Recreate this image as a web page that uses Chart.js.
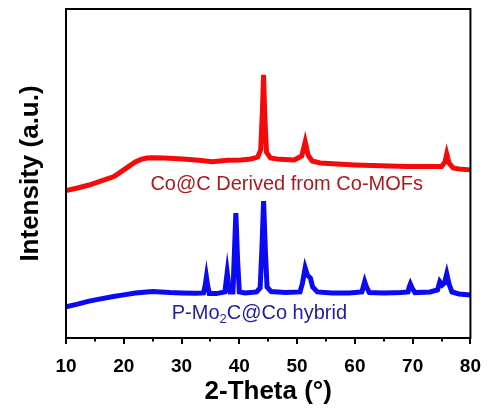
<!DOCTYPE html>
<html>
<head>
<meta charset="utf-8">
<script src="https://cdn.jsdelivr.net/npm/chart.js@4"></script>
<style>
  html, body { margin: 0; padding: 0; background: #fff; }
  #wrap { width: 490px; height: 414px; }
</style>
</head>
<body>
<div id="wrap"><canvas id="xrd"></canvas></div>
<script>
// 2-Theta positions and intensities (a.u.)
const coCX = [10, 12, 14, 16, 17, 18.2, 19, 20, 21, 22, 23, 24, 25, 27, 30.2, 33, 35.3, 38, 40.3, 42, 43.2, 43.7, 44.0, 44.2, 44.4, 44.7, 45.4, 47, 49.5, 50.8, 51.4, 51.9, 52.6, 54, 57, 60, 63, 66, 69, 72.3, 75, 75.6, 75.9, 76.3, 77, 78, 80];
const coCY = [448, 456, 465, 477, 483, 490, 499, 511, 523, 535, 543, 547, 548, 547, 544, 540, 536, 540, 541, 544, 550, 572, 693, 800, 678, 565, 547, 543, 541, 553, 596, 556, 538, 532, 529, 526, 524, 523, 521, 521, 521, 535, 559, 532, 517, 514, 511];

const pMoX = [10, 12, 14, 16, 18.2, 20, 22, 25, 28, 30, 32.4, 33.8, 34.1, 34.3, 34.5, 34.8, 36, 37.5, 37.7, 37.9, 38.1, 38.4, 38.9, 39.1, 39.4, 39.7, 40.0, 41, 43, 43.6, 43.9, 44.2, 44.5, 44.8, 45.5, 48, 50.5, 50.9, 51.4, 51.8, 52.3, 52.7, 53.5, 56, 59, 61.2, 61.5, 61.7, 62.0, 62.5, 65, 68, 69.2, 69.4, 69.6, 69.9, 70.4, 73, 74.3, 74.7, 75.1, 75.5, 75.9, 76.3, 76.8, 78, 80];
const pMoY = [95, 103, 112, 119, 126, 131, 137, 141, 138, 137, 136, 137, 161, 185, 161, 135, 135, 140, 170, 199, 170, 140, 140, 237, 380, 237, 140, 137, 140, 152, 267, 416, 267, 155, 141, 138, 140, 164, 213, 191, 182, 155, 140, 137, 137, 140, 158, 171, 155, 138, 137, 138, 140, 155, 164, 152, 138, 140, 146, 171, 161, 167, 195, 164, 140, 134, 131];

const xTicks = [10, 20, 30, 40, 50, 60, 70, 80];
const seriesNames = ['Co@C Derived from Co-MOFs', 'P-Mo2C@Co hybrid'];

const FONT = '"Liberation Sans", Arial, sans-serif';

function toPoints(xs, ys) {
  return xs.map((x, i) => ({ x: x, y: ys[i] }));
}

// frame, tick marks and the two curve labels
const decor = {
  id: 'decor',
  afterDraw(chart) {
    const { ctx, chartArea: a, scales: { x, y } } = chart;
    ctx.save();
    ctx.strokeStyle = '#000';
    ctx.lineWidth = 2;
    ctx.strokeRect(a.left, a.top, a.right - a.left, a.bottom - a.top);
    ctx.beginPath();
    for (let v = 10; v <= 80; v += 5) {
      const px = Math.round(x.getPixelForValue(v));
      const len = v % 10 === 0 ? 6 : 3.5;
      ctx.moveTo(px, a.bottom);
      ctx.lineTo(px, a.bottom + len);
    }
    ctx.stroke();

    // red label
    ctx.font = '20px ' + FONT;
    ctx.fillStyle = '#ac1a1e';
    ctx.textAlign = 'center';
    ctx.textBaseline = 'middle';
    ctx.fillText(seriesNames[0], x.getPixelForValue(48.2), y.getPixelForValue(468));

    // blue label with subscript 2
    ctx.fillStyle = '#1c1ca6';
    ctx.textAlign = 'left';
    let lx = x.getPixelForValue(28.3);
    const ly = y.getPixelForValue(76);
    const parts = ['P-Mo', '2', 'C@Co hybrid'];
    ctx.fillText(parts[0], lx, ly);
    lx += ctx.measureText(parts[0]).width;
    ctx.font = '13px ' + FONT;
    ctx.fillText(parts[1], lx, ly + 6);
    lx += ctx.measureText(parts[1]).width;
    ctx.font = '20px ' + FONT;
    ctx.fillText(parts[2], lx, ly);
    ctx.restore();
  }
};

new Chart(document.getElementById('xrd'), {
  type: 'line',
  data: {
    datasets: [
      {
        label: seriesNames[0],
        data: toPoints(coCX, coCY),
        borderColor: '#f50a0a',
        borderWidth: 5,
        pointRadius: 0,
        tension: 0
      },
      {
        label: seriesNames[1],
        data: toPoints(pMoX, pMoY),
        borderColor: '#0a0af5',
        borderWidth: 5,
        pointRadius: 0,
        tension: 0
      }
    ]
  },
  options: {
    responsive: true,
    maintainAspectRatio: false,
    animation: false,
    layout: { padding: { top: 9, right: 15, left: 0, bottom: 0 } },
    plugins: {
      legend: { display: false },
      tooltip: { enabled: false }
    },
    scales: {
      x: {
        type: 'linear',
        min: 10,
        max: 80,
        afterBuildTicks: (scale) => { scale.ticks = xTicks.map(v => ({ value: v })); },
        afterFit: (scale) => { scale.height = 76; },
        grid: { display: false },
        border: { display: false },
        ticks: {
          padding: 9,
          color: '#000',
          font: { family: FONT, size: 19, weight: 'bold' }
        },
        title: {
          display: true,
          text: '2-Theta (°)',
          color: '#000',
          padding: { top: 0, bottom: 7 },
          font: { family: FONT, size: 26, weight: 'bold' }
        }
      },
      y: {
        min: 0,
        max: 1000,
        afterFit: (scale) => { scale.width = 66; },
        grid: { display: false },
        border: { display: false },
        ticks: { display: false },
        title: {
          display: true,
          text: 'Intensity (a.u.)',
          color: '#000',
          padding: { top: 15, bottom: 0 },
          font: { family: FONT, size: 26, weight: 'bold' }
        }
      }
    }
  },
  plugins: [decor]
});
</script>
</body>
</html>
